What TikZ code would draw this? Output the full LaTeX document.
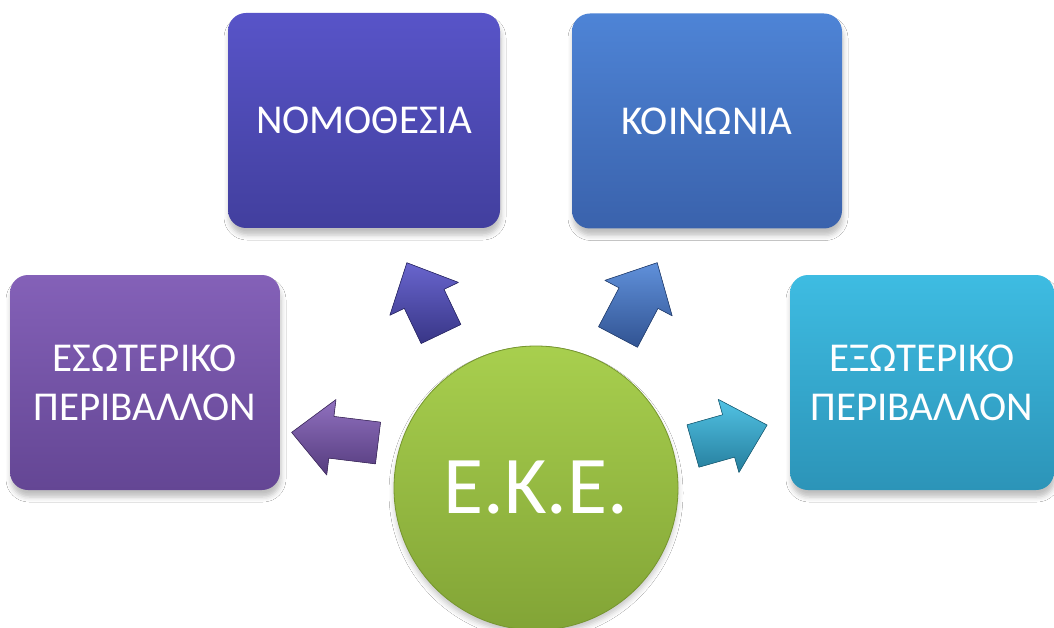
\documentclass[tikz,border=0pt]{standalone}
\usepackage{fontspec}
\setmainfont{Carlito}
\usetikzlibrary{shadows.blur}
\definecolor{nomT}{RGB}{88,84,200}
\definecolor{nomB}{RGB}{66,63,158}
\definecolor{koiT}{RGB}{78,132,214}
\definecolor{koiB}{RGB}{58,98,172}
\definecolor{eswT}{RGB}{132,97,184}
\definecolor{eswB}{RGB}{100,70,148}
\definecolor{exwT}{RGB}{62,188,226}
\definecolor{exwB}{RGB}{44,148,184}
\definecolor{ekeT}{RGB}{168,207,78}
\definecolor{ekeB}{RGB}{130,164,54}
\definecolor{ekeE}{RGB}{118,150,46}
\begin{document}
\begin{tikzpicture}[x=1pt,y=-1pt,
  boxnode/.style={rounded corners=18pt, minimum width=272pt, minimum height=215pt,
    text=white, font=\fontsize{41}{49}\selectfont, align=center, inner sep=0pt,
    blur shadow={shadow xshift=1pt, shadow yshift=-7pt, shadow blur radius=5pt, shadow opacity=25}},
  arrowfill/.style 2 args={top color=#1, bottom color=#2, draw=#2!80!black, line width=0.6pt, line join=round}
]
\useasboundingbox (0,0) rectangle (1054,628);
\fill[white] (0,0) rectangle (1054,628);

\node[boxnode, top color=nomT, bottom color=nomB] (nom) at (364,120.5) {ΝΟΜΟΘΕΣΙΑ};
\node[boxnode, top color=koiT, bottom color=koiB, minimum width=270pt] (koi) at (707,121) {ΚΟΙΝΩΝΙΑ};
\node[boxnode, top color=eswT, bottom color=eswB, minimum width=270pt] (esw) at (145,382.5) {ΕΣΩΤΕΡΙΚΟ\\ΠΕΡΙΒΑΛΛΟΝ};
\node[boxnode, top color=exwT, bottom color=exwB, minimum width=264pt] (exw) at (922,382.5) {ΕΞΩΤΕΡΙΚΟ\\ΠΕΡΙΒΑΛΛΟΝ};

\node[circle, minimum size=284pt, inner sep=0pt, top color=ekeT, bottom color=ekeB,
  draw=ekeE, line width=0.8pt, text=white, font=\fontsize{82}{82}\selectfont,
  blur shadow={shadow xshift=0pt, shadow yshift=-5pt, shadow blur radius=5pt, shadow opacity=22}]
  (eke) at (536,488) {Ε.Κ.Ε.};

\coordinate (tnom) at (441,334);
\coordinate (tkoi) at (618,337);
\coordinate (tesw) at (378,443);
\coordinate (texw) at (693,446);

\begin{scope}[shift={(tnom)}, rotate=115.6]
  \fill[arrowfill={nomT!90!white}{nomB!85!black}] (0,-22) -- (39,-22) -- (39,-38) -- (79,0) -- (39,38) -- (39,22) -- (0,22) -- cycle;
\end{scope}
\begin{scope}[shift={(tkoi)}, rotate=62.2]
  \fill[arrowfill={koiT!90!white}{koiB!85!black}] (0,-22) -- (44,-22) -- (44,-38) -- (84,0) -- (44,38) -- (44,22) -- (0,22) -- cycle;
\end{scope}
\begin{scope}[shift={(tesw)}, rotate=173]
  \fill[arrowfill={eswT!90!white}{eswB!85!black}] (0,-21) -- (47,-21) -- (47,-38) -- (87,0) -- (47,38) -- (47,21) -- (0,21) -- cycle;
\end{scope}
\begin{scope}[shift={(texw)}, rotate=15.8]
  \fill[arrowfill={exwT!90!white}{exwB!85!black}] (0,-22) -- (37,-22) -- (37,-38) -- (77,0) -- (37,38) -- (37,22) -- (0,22) -- cycle;
\end{scope}
\end{tikzpicture}
\end{document}
